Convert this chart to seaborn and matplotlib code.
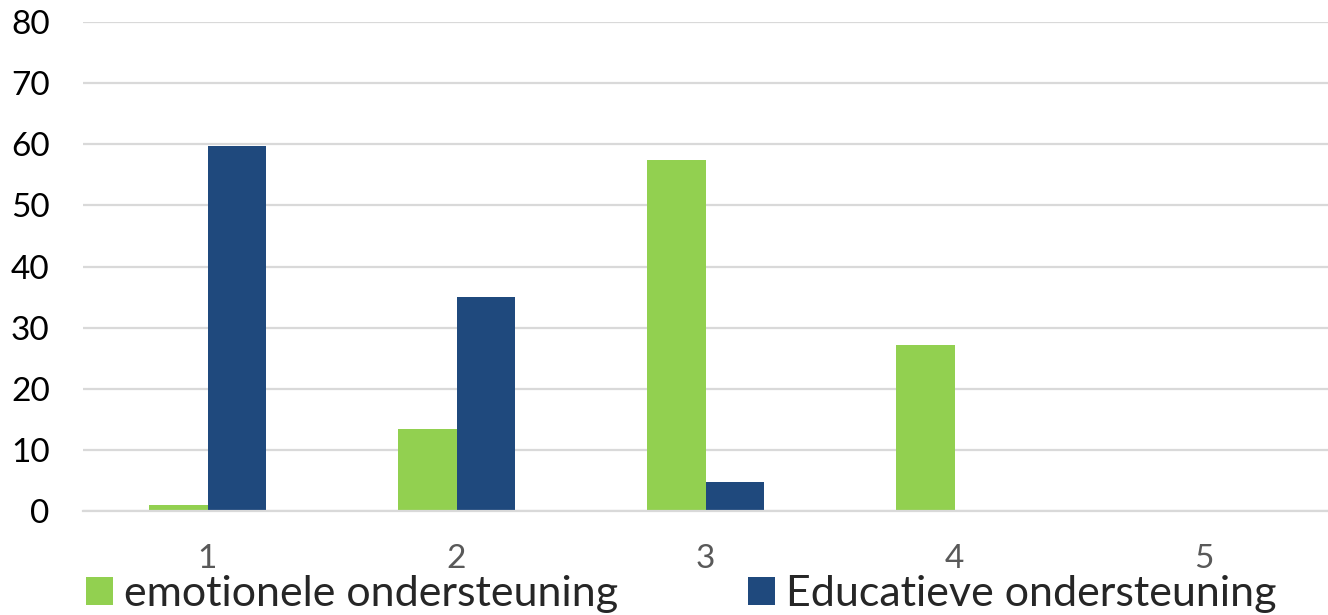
import matplotlib
matplotlib.use("Agg")
import matplotlib.pyplot as plt
import seaborn as sns
import pandas as pd

categories = ["1", "2", "3", "4", "5"]
series_names = ["emotionele ondersteuning", "Educatieve ondersteuning"]
emotionele = [1.0, 13.5, 57.5, 27.1, 0.0]
educatieve = [59.8, 35.1, 4.7, 0.0, 0.0]
y_ticks = [0, 10, 20, 30, 40, 50, 60, 70, 80]
colors = ["#92D050", "#1F497D"]

sns.set_theme(style="white")
plt.rcParams["font.family"] = ["Lato", "DejaVu Sans"]

df = pd.DataFrame({
    "cat": categories * 2,
    "value": emotionele + educatieve,
    "series": [series_names[0]] * len(categories) + [series_names[1]] * len(categories),
})

fig = plt.figure(figsize=(13.28, 6.15), dpi=100)
ax = fig.add_axes([0.0625, 0.169, 0.9375, 0.795])

sns.barplot(data=df, x="cat", y="value", hue="series", order=categories,
            hue_order=series_names, palette=colors, width=0.466,
            linewidth=0, saturation=1, ax=ax, legend=True)

ax.set_ylim(0, 80)
ax.set_xlim(-0.5, len(categories) - 0.5)
ax.set_yticks(y_ticks)
ax.set_yticklabels([str(t) for t in y_ticks])
ax.yaxis.grid(True, color="#D9D9D9", linewidth=1.6)
ax.set_axisbelow(True)
for s in ["top", "right", "left"]:
    ax.spines[s].set_visible(False)
ax.spines["bottom"].set_color("#D9D9D9")
ax.spines["bottom"].set_linewidth(1.6)
ax.tick_params(axis="y", length=0, pad=24, labelsize=24, labelcolor="#000000")
ax.tick_params(axis="x", length=0, pad=24, labelsize=24, labelcolor="#595959")
ax.set_xlabel("")
ax.set_ylabel("")

handles, labels = ax.get_legend_handles_labels()
ax.get_legend().remove()
fig.legend(handles, labels, loc="lower left", bbox_to_anchor=(0.0648, 0.003),
           ncol=2, frameon=False, fontsize=31, handlelength=0.63,
           handleheight=0.63, handletextpad=0.26, columnspacing=3.0,
           borderaxespad=0, borderpad=0)

fig.savefig("out.png", dpi=100)
